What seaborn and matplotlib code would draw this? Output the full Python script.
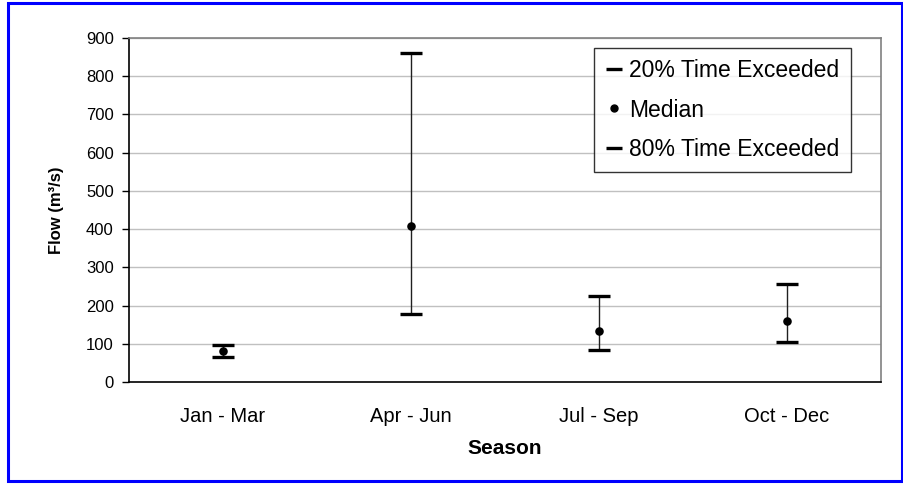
import matplotlib
matplotlib.use("Agg")
import matplotlib.pyplot as plt
from matplotlib.lines import Line2D
from matplotlib.patches import Rectangle
import seaborn as sns
import pandas as pd

seasons = ["Jan - Mar", "Apr - Jun", "Jul - Sep", "Oct - Dec"]
p20 = [97, 861, 224, 256]
median = [81, 408, 134, 160]
p80 = [66, 178, 84, 105]
yticks = [0, 100, 200, 300, 400, 500, 600, 700, 800, 900]

sns.set_theme(style="white")
plt.rcParams["font.family"] = ["Liberation Sans", "DejaVu Sans"]
plt.rcParams["text.color"] = "black"
plt.rcParams["axes.labelcolor"] = "black"
plt.rcParams["xtick.color"] = "black"
plt.rcParams["ytick.color"] = "black"

df = pd.DataFrame({"Season": seasons, "p20": p20, "median": median, "p80": p80})

fig = plt.figure(figsize=(9.04, 4.84), dpi=100)
ax = fig.add_axes([129 / 904, 1 - 382 / 484, (881 - 129) / 904, (382 - 38) / 484])

# gridlines
for v in yticks[1:]:
    ax.axhline(v, color="#c0c0c0", lw=1.0, zorder=0)

# vertical lines
ax.vlines(range(len(seasons)), df["p80"], df["p20"], color="#202020", lw=1.0, zorder=2)

sns.scatterplot(data=df, x="Season", y="p20", marker="_", s=270, linewidth=2.4,
                color="black", ax=ax, zorder=3, legend=False)
sns.scatterplot(data=df, x="Season", y="p80", marker="_", s=270, linewidth=2.4,
                color="black", ax=ax, zorder=3, legend=False)
sns.scatterplot(data=df, x="Season", y="median", marker="o", s=38, linewidth=0,
                color="black", ax=ax, zorder=4, legend=False)

ax.set_xlim(-0.5, 3.5)
ax.set_ylim(0, 900)
ax.set_yticks(yticks)
ax.set_yticklabels([str(v) for v in yticks], fontsize=12)
ax.set_xticks(range(len(seasons)))
ax.set_xticklabels(seasons, fontsize=14.5)
ax.set_xticks([-0.5, 0.5, 1.5, 2.5, 3.5], minor=True)
ax.tick_params(axis="x", which="major", length=0, pad=18)
ax.tick_params(axis="x", which="minor", length=8, width=1, color="black", direction="inout")
ax.tick_params(axis="y", which="major", length=5, width=1, color="black", pad=6, left=True)

for s in ["left", "bottom"]:
    ax.spines[s].set_color("black")
    ax.spines[s].set_linewidth(1.2)
for s in ["top", "right"]:
    ax.spines[s].set_color("#808080")
    ax.spines[s].set_linewidth(1.2)

ax.set_xlabel("Season", fontsize=15, fontweight="bold", labelpad=9)
ax.set_ylabel("Flow (m³/s)", fontsize=12, fontweight="bold", labelpad=16)

handles = [
    Line2D([], [], marker="_", linestyle="none", color="black", markersize=11, markeredgewidth=2.4),
    Line2D([], [], marker="o", linestyle="none", color="black", markersize=5),
    Line2D([], [], marker="_", linestyle="none", color="black", markersize=11, markeredgewidth=2.4),
]
leg = ax.legend(handles, ["20% Time Exceeded", "Median", "80% Time Exceeded"],
                loc="upper right", bbox_to_anchor=((851 - 129) / (881 - 129), (382 - 48) / (382 - 38)),
                fontsize=16.5, frameon=True, fancybox=False, edgecolor="black",
                handlelength=0.8, handletextpad=0.25, labelspacing=0.7, borderpad=0.5,
                borderaxespad=0)
leg.get_frame().set_linewidth(1.0)

fig.patches.append(Rectangle((8 / 904, 3 / 484), (902 - 8) / 904, (481 - 3) / 484,
                             transform=fig.transFigure, fill=False,
                             edgecolor="#0000ff", linewidth=2.2))

fig.savefig("out.png", dpi=100)
